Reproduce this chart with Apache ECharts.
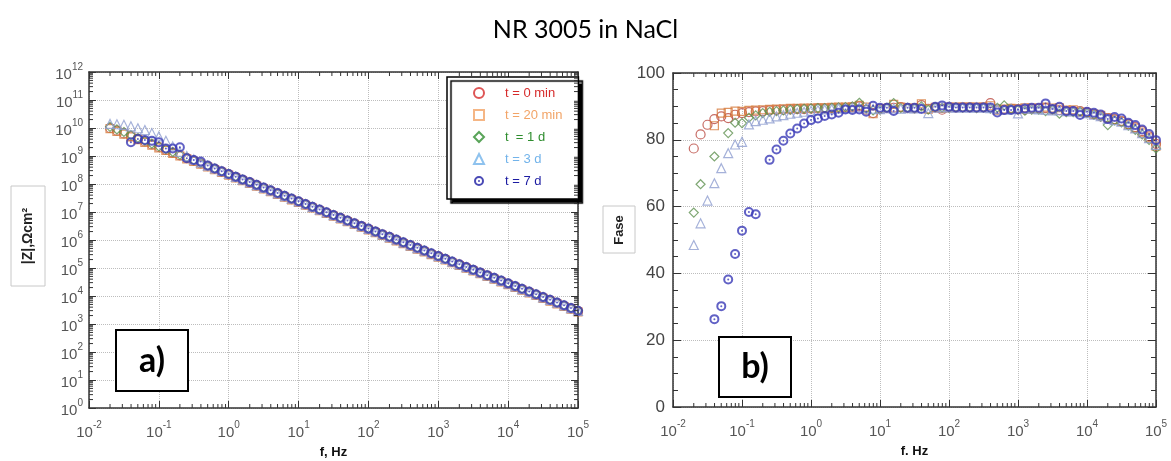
<!DOCTYPE html>
<html><head><meta charset="utf-8">
<script src="https://cdn.jsdelivr.net/npm/echarts@6/dist/echarts.min.js"></script>
<style>html,body{margin:0;padding:0;background:#fff}#c{width:1171px;height:461px}</style>
</head><body><div id="c"></div>
<script>
// Frequencies (Hz), 10 points per decade from 0.02 Hz to 100 kHz
const freqs = [0.02, 0.0251, 0.0316, 0.0398, 0.0501, 0.0631, 0.0794, 0.1, 0.126, 0.158, 0.2, 0.251, 0.316, 0.398, 0.501, 0.631, 0.794, 1,
  1.26, 1.58, 2, 2.51, 3.16, 3.98, 5.01, 6.31, 7.94, 10,
  12.6, 15.8, 20, 25.1, 31.6, 39.8, 50.1, 63.1, 79.4, 100,
  126, 158, 200, 251, 316, 398, 501, 631, 794, 1000,
  1260, 1580, 2000, 2510, 3160, 3980, 5010, 6310, 7940, 10000,
  12600, 15800, 20000, 25100, 31600, 39800, 50100, 63100, 79400, 100000];

const seriesNames = ['t = 0 min', 't = 20 min', 't  = 1 d', 't = 3 d', 't = 7 d'];

// |Z| (Ohm cm2)
const zT0 = [1.0e10, 8.0e9, 6.4e9, 5.1e9, 4.1e9, 3.3e9, 2.6e9, 2.1e9, 1.66e9, 1.33e9, 1.06e9, 8.5e8, 6.8e8, 5.4e8, 4.3e8, 3.45e8, 2.75e8, 2.2e8,
  1.75e8, 1.4e8, 1.12e8, 8.9e7, 7.1e7, 5.7e7, 4.55e7, 3.63e7, 2.9e7, 2.32e7,
  1.85e7, 1.48e7, 1.18e7, 9.4e6, 7.5e6, 6.0e6, 4.8e6, 3.83e6, 3.06e6, 2.44e6,
  1.95e6, 1.56e6, 1.25e6, 9.95e5, 7.95e5, 6.35e5, 5.06e5, 4.04e5, 3.23e5, 2.58e5,
  2.06e5, 1.64e5, 1.31e5, 1.05e5, 8.4e4, 6.7e4, 5.35e4, 4.27e4, 3.41e4, 2.72e4,
  2.17e4, 1.74e4, 1.38e4, 1.1e4, 8.8e3, 7.05e3, 5.62e3, 4.49e3, 3.59e3, 2.87e3];
const zT20 = [9.45e9, 7.54e9, 6.03e9, 4.82e9, 3.84e9, 3.07e9, 2.45e9, 1.95e9, 1.57e9, 1.25e9, 1.00e9, 7.95e8, 6.35e8, 5.08e8, 4.05e8, 3.23e8, 2.58e8, 2.06e8,
  1.65e8, 1.31e8, 1.05e8, 8.38e7, 6.70e7, 5.35e7, 4.27e7, 3.41e7, 2.73e7, 2.18e7,
  1.74e7, 1.39e7, 1.11e7, 8.84e6, 7.07e6, 5.63e6, 4.50e6, 3.59e6, 2.87e6, 2.30e6,
  1.83e6, 1.46e6, 1.17e6, 9.36e5, 7.44e5, 5.95e5, 4.74e5, 3.79e5, 3.02e5, 2.42e5,
  1.93e5, 1.54e5, 1.23e5, 9.81e4, 7.86e4, 6.26e4, 5.00e4, 4.00e4, 3.20e4, 2.55e4,
  2.03e4, 1.63e4, 1.30e4, 1.04e4, 8.28e3, 6.61e3, 5.27e3, 4.21e3, 3.37e3, 2.69e3];
const zT1d = [1.1e10, 8.9e9, 7.2e9, 5.6e9, 4.4e9, 3.5e9, 2.75e9, 2.2e9, 1.75e9, 1.4e9, 1.11e9, 8.83e8, 7.06e8, 5.64e8, 4.50e8, 3.59e8, 2.87e8, 2.29e8,
  1.85e8, 1.47e8, 1.18e8, 9.4e7, 7.5e7, 6.0e7, 4.78e7, 3.82e7, 3.05e7, 2.44e7,
  1.95e7, 1.55e7, 1.24e7, 9.9e6, 7.9e6, 6.3e6, 5.04e6, 4.02e6, 3.21e6, 2.57e6,
  2.05e6, 1.63e6, 1.31e6, 1.05e6, 8.33e5, 6.66e5, 5.31e5, 4.24e5, 3.38e5, 2.71e5,
  2.16e5, 1.72e5, 1.38e5, 1.1e5, 8.8e4, 7.0e4, 5.6e4, 4.47e4, 3.58e4, 2.85e4,
  2.28e4, 1.82e4, 1.45e4, 1.16e4, 9.27e3, 7.4e3, 5.9e3, 4.71e3, 3.77e3, 3.01e3];
const zT3d = [1.4e10, 1.36e10, 1.3e10, 1.15e10, 9.8e9, 8.5e9, 6.6e9, 5.0e9, 3.5e9, 2.2e9, 1.4e9, 1.0e9, 7.6e8, 5.9e8, 4.5e8, 3.59e8, 2.87e8, 2.29e8,
  1.79e8, 1.43e8, 1.15e8, 9.1e7, 7.3e7, 5.8e7, 4.65e7, 3.71e7, 2.97e7, 2.37e7,
  1.89e7, 1.51e7, 1.21e7, 9.6e6, 7.7e6, 6.1e6, 4.9e6, 3.91e6, 3.13e6, 2.5e6,
  1.99e6, 1.59e6, 1.27e6, 1.02e6, 8.1e5, 6.48e5, 5.16e5, 4.13e5, 3.29e5, 2.64e5,
  2.1e5, 1.68e5, 1.34e5, 1.07e5, 8.56e4, 6.82e4, 5.45e4, 4.35e4, 3.48e4, 2.77e4,
  2.21e4, 1.77e4, 1.41e4, 1.13e4, 9.0e3, 7.2e3, 5.74e3, 4.59e3, 3.67e3, 2.93e3];
const zT7d = [null, null, null, 3.09e9, 4.07e9, 3.72e9, 3.47e9, 3.09e9, 1.86e9, 1.86e9, 2.04e9, 8.3e8, 7.2e8, 6.3e8, 4.6e8, 3.6e8, 2.87e8, 2.29e8,
  1.83e8, 1.46e8, 1.17e8, 9.31e7, 7.44e7, 5.94e7, 4.74e7, 3.79e7, 3.03e7, 2.42e7,
  1.93e7, 1.54e7, 1.23e7, 9.82e6, 7.85e6, 6.26e6, 5.00e6, 3.99e6, 3.19e6, 2.55e6,
  2.03e6, 1.62e6, 1.30e6, 1.04e6, 8.27e5, 6.61e5, 5.27e5, 4.21e5, 3.36e5, 2.69e5,
  2.14e5, 1.71e5, 1.37e5, 1.09e5, 8.73e4, 6.96e4, 5.56e4, 4.44e4, 3.55e4, 2.83e4,
  2.26e4, 1.81e4, 1.44e4, 1.15e4, 9.20e3, 7.34e3, 5.86e3, 4.68e3, 3.74e3, 2.99e3];

// Phase (degrees)
const pT0 = [77.4, 81.6, 84.5, 86.2, 87.0, 86.5, 87.5, 88.0, 88.3, 88.5, 88.6, 88.8, 88.9, 89.0, 89.1, 89.2, 89.2, 89.3,
  89.4, 89.4, 89.5, 89.5, 89.6, 89.7, 90.0, 89.0, 88.0, 89.2,
  89.5, 89.6, 89.8, 89.5, 89.4, 90.4, 89.3, 89.6, 89.0, 89.6,
  89.6, 89.7, 89.7, 89.6, 89.7, 91.0, 89.2, 89.0, 89.3, 89.1,
  89.0, 89.2, 89.3, 89.5, 89.0, 88.9, 88.5, 88.6, 88.6, 88.2,
  87.6, 87.0, 86.5, 86.2, 85.6, 84.7, 83.8, 82.6, 81.0, 78.8];
const pT20 = [null, null, null, 84.2, 88.0, 88.2, 88.6, 88.5, 88.8, 88.9, 89.0, 89.1, 89.2, 89.3, 89.4, 89.4, 89.5, 89.5,
  89.6, 89.6, 89.7, 89.8, 89.8, 89.9, 90.3, 89.8, 87.8, 89.3,
  89.4, 90.6, 89.8, 89.4, 89.5, 90.8, 89.2, 89.7, 89.4, 89.8,
  89.8, 89.8, 89.8, 89.8, 89.8, 90.2, 88.9, 89.2, 89.4, 89.3,
  89.6, 89.5, 89.5, 89.8, 89.5, 89.6, 88.9, 89.0, 88.3, 88.1,
  87.7, 87.3, 86.6, 86.0, 85.5, 84.5, 83.5, 82.1, 80.6, 78.1];
const pT1d = [58.2, 66.7, null, 75.0, null, 82.0, 85.1, 85.0, 86.6, 87.3, 88.0, 88.4, 88.6, 88.8, 89.0, 89.2, 89.3, 89.4,
  89.5, 89.5, 89.6, 89.7, 89.8, 90.0, 91.1, 89.3, 88.8, 89.0,
  89.6, 91.0, 89.5, 89.6, 89.4, 90.0, 89.0, 89.8, 89.6, 89.6,
  89.7, 89.6, 89.7, 89.5, 89.6, 89.3, 89.6, 90.3, 89.2, 89.0,
  88.7, 89.0, 89.0, 88.6, 89.0, 87.8, 88.3, 88.3, 88.4, 88.0,
  87.5, 86.9, 84.4, 85.8, 85.2, 84.2, 83.0, 81.6, 80.0, 77.4];
const pT3d = [48.5, 55.0, 61.8, 67.0, 71.5, 76.0, 78.6, 79.4, 84.6, 85.6, 86.0, 86.4, 87.0, 87.4, 87.8, 88.1, 88.4, 88.7,
  88.9, 89.1, 89.2, 89.4, 89.5, 89.6, 89.7, 89.5, 89.3, 89.2,
  89.5, 89.4, 89.3, 89.5, 89.4, 89.6, 88.0, 89.6, 89.7, 89.7,
  89.6, 89.7, 89.6, 89.7, 89.6, 89.5, 89.2, 89.0, 89.2, 87.9,
  89.4, 89.3, 89.1, 89.0, 88.8, 88.9, 88.6, 88.5, 88.3, 88.0,
  87.5, 87.1, 86.3, 85.9, 85.4, 84.4, 83.4, 82.0, 80.5, 78.5];
const pT7d = [null, null, null, 26.3, 30.2, 38.2, 45.8, 52.8, 58.4, 57.7, null, 74.0, 77.1, 79.7, 81.9, 83.4, 84.9, 85.9,
  86.4, 87.1, 87.6, 88.1, 89.1, 88.9, 89.1, 88.4, 90.2, 89.6,
  89.6, 88.6, null, 89.6, 89.6, 89.2, null, 89.9, 90.3, 89.9,
  89.7, 89.7, 89.7, 89.7, 89.7, 89.7, 88.2, 88.9, 88.9, 89.1,
  89.4, 89.6, 89.6, 90.9, 89.2, 89.9, 88.6, 88.6, 87.4, 88.4,
  88.1, 87.6, 86.2, 86.8, 86.4, 85.1, 84.4, 83.1, 81.7, 79.9];

const plotColors = ['#b9473e', '#d67a3c', '#5f9150', '#8e9dd0', '#3a3ab6'];
const legendColors = ['#d62b2b', '#f2a467', '#2f8d2f', '#72b3ea', '#1c1ca2'];
const symbols = ['circle', 'rect', 'diamond', 'triangle',
  'path://M50,0 A50,50 0 1,1 50,100 A50,50 0 1,1 50,0 Z M50,20 A30,30 0 1,0 50,80 A30,30 0 1,0 50,20 Z M50,40 A10,10 0 1,1 50,60 A10,10 0 1,1 50,40 Z'];
const symbolSizes = [9, 8, 9, 9, 10];

const zData = [zT0, zT20, zT1d, zT3d, zT7d];
const pData = [pT0, pT20, pT1d, pT3d, pT7d];

function pairs(xs, ys) {
  const out = [];
  ys.forEach((v, i) => { if (v != null) out.push([xs[i], v]); });
  return out;
}

const labelRich = {
  b: { fontSize: 15, color: '#555', fontFamily: 'Arial', verticalAlign: 'bottom', lineHeight: 20 },
  s: { fontSize: 10, color: '#555', fontFamily: 'Arial', verticalAlign: 'top', lineHeight: 10 }
};
function powLabel(v) {
  const e = Math.round(Math.log10(v));
  return '{b|10}{s|' + e + '}';
}
const axisLineStyle = { color: '#333', width: 1.5 };
const gridLine = { lineStyle: { color: '#bdbdbd', type: 'dotted', width: 1 } };

function logX(gi, pos, main, name) {
  return {
    type: 'log', logBase: 10, min: 0.01, max: 1e5, interval: 1, gridIndex: gi, position: pos,
    axisLine: { show: true, onZero: false, lineStyle: axisLineStyle },
    axisTick: { show: true, inside: true, length: 7, lineStyle: { color: '#333' } },
    splitLine: Object.assign({ show: main }, gridLine),
    axisLabel: { show: main, margin: 12, formatter: powLabel, rich: labelRich },
    name: main ? name : '', nameLocation: 'middle', nameGap: 38,
    nameTextStyle: { fontFamily: 'Arial', fontWeight: 'bold', fontSize: 13, color: '#111' }
  };
}

const baseGraphic = [
  { type: 'rect', z: 100, shape: { x: 11, y: 186, width: 34, height: 100 },
    style: { fill: '#fff', stroke: '#c8c8c8', lineWidth: 1 } },
  { type: 'text', z: 101, x: 28, y: 236, rotation: Math.PI / 2,
    style: { text: '|Z|,Ωcm²', fontSize: 14, fontWeight: 'bold', fontFamily: 'Arial', fill: '#222', align: 'center', verticalAlign: 'middle' } },
  { type: 'rect', z: 100, shape: { x: 603, y: 206, width: 32, height: 47 },
    style: { fill: '#fff', stroke: '#c8c8c8', lineWidth: 1 } },
  { type: 'text', z: 101, x: 619, y: 230, rotation: Math.PI / 2,
    style: { text: 'Fase', fontSize: 13, fontWeight: 'bold', fontFamily: 'Arial', fill: '#222', align: 'center', verticalAlign: 'middle' } },
  { type: 'rect', z: 100, shape: { x: 116, y: 330, width: 72, height: 61 },
    style: { fill: '#fff', stroke: '#000', lineWidth: 2 } },
  { type: 'text', z: 101, x: 152, y: 361,
    style: { text: 'a)', fontSize: 34, fontWeight: 'bold', fontFamily: 'Lato', fill: '#000', align: 'center', verticalAlign: 'middle' } },
  { type: 'rect', z: 100, shape: { x: 719, y: 337, width: 72, height: 60 },
    style: { fill: '#fff', stroke: '#000', lineWidth: 2 } },
  { type: 'text', z: 101, x: 755, y: 367,
    style: { text: 'b)', fontSize: 34, fontWeight: 'bold', fontFamily: 'Lato', fill: '#000', align: 'center', verticalAlign: 'middle' } }
];

const option = {
  animation: false,
  backgroundColor: '#fff',
  title: { text: 'NR 3005 in NaCl', left: 'center', top: 12,
    textStyle: { fontFamily: 'Lato', fontSize: 25, fontWeight: 'normal', color: '#000' } },
  grid: [
    { left: 89, top: 72, width: 489, height: 336, outerBoundsMode: 'none' },
    { left: 673, top: 73, width: 483, height: 334, outerBoundsMode: 'none' }
  ],
  xAxis: [
    logX(0, 'bottom', true, 'f, Hz'),
    logX(1, 'bottom', true, 'f. Hz'),
    logX(0, 'top', false, ''),
    logX(1, 'top', false, '')
  ],
  yAxis: [
    { type: 'log', logBase: 10, min: 1, max: 1e12, interval: 1, gridIndex: 0, position: 'left',
      axisLine: { show: true, onZero: false, lineStyle: axisLineStyle },
      axisTick: { show: true, inside: true, length: 7, lineStyle: { color: '#333' } },
      splitLine: gridLine,
      axisLabel: { margin: 6, formatter: powLabel, rich: labelRich } },
    { type: 'value', min: 0, max: 100, interval: 20, gridIndex: 1, position: 'left',
      axisLine: { show: true, onZero: false, lineStyle: axisLineStyle },
      axisTick: { show: true, inside: true, length: 8, lineStyle: { color: '#333' } },
      minorTick: { show: true, splitNumber: 4, length: 5, lineStyle: { color: '#333' } },
      splitLine: gridLine,
      axisLabel: { margin: 8, fontSize: 17, color: '#444', fontFamily: 'Arial' } },
    { type: 'log', logBase: 10, min: 1, max: 1e12, interval: 1, gridIndex: 0, position: 'right',
      axisLine: { show: true, onZero: false, lineStyle: axisLineStyle },
      axisTick: { show: true, inside: true, length: 7, lineStyle: { color: '#333' } },
      splitLine: { show: false }, axisLabel: { show: false } },
    { type: 'value', min: 0, max: 100, interval: 20, gridIndex: 1, position: 'right',
      axisLine: { show: true, onZero: false, lineStyle: axisLineStyle },
      axisTick: { show: true, inside: true, length: 8, lineStyle: { color: '#333' } },
      minorTick: { show: true, splitNumber: 4, length: 5, lineStyle: { color: '#333' } },
      splitLine: { show: false }, axisLabel: { show: false } }
  ],
  legend: {
    orient: 'vertical', left: 447, top: 77,
    padding: [9, 16, 11, 26],
    itemWidth: 10, itemHeight: 10, itemGap: 8,
    backgroundColor: '#fff', borderColor: '#000', borderWidth: 1.5,
    shadowColor: '#000', shadowOffsetX: 4, shadowOffsetY: 4, shadowBlur: 1,
    textStyle: { fontSize: 13, fontFamily: 'Arial', lineHeight: 14, padding: [0, 0, 0, 16] },
    data: seriesNames.map((n, i) => ({
      name: n,
      textStyle: { color: legendColors[i] },
      itemStyle: i === 4 ? { color: legendColors[i] } : { borderColor: legendColors[i] }
    }))
  },
  series: [],
  graphic: baseGraphic
};

seriesNames.forEach((n, i) => {
  const isBlue = i === 4;
  const itemStyle = isBlue ? { color: plotColors[i] }
    : { color: 'rgba(0,0,0,0)', borderColor: plotColors[i], borderWidth: 1.2 };
  option.series.push({ name: n, type: 'scatter', xAxisIndex: 0, yAxisIndex: 0,
    data: pairs(freqs, zData[i]), symbol: symbols[i], symbolSize: symbolSizes[i], itemStyle: itemStyle, z: 2 + i });
  option.series.push({ name: n, type: 'scatter', xAxisIndex: 1, yAxisIndex: 1,
    data: pairs(freqs, pData[i]), symbol: symbols[i], symbolSize: symbolSizes[i], itemStyle: itemStyle, z: 2 + i });
});

const chart = echarts.init(document.getElementById('c'), null, { renderer: 'canvas' });
chart.setOption(option);

// Minor ticks on the logarithmic axes (2..9 x 10^n), placed through the axes' own scales
const minor = [];
const tickStyle = { stroke: '#333', lineWidth: 1 };
function addLine(x1, y1, x2, y2) {
  minor.push({ type: 'line', z: 50, silent: true, shape: { x1: x1, y1: y1, x2: x2, y2: y2 }, style: tickStyle });
}
[[0, 2], [1, 3]].forEach(([bi, ti]) => {
  const yb = chart.convertToPixel({ gridIndex: bi }, [0.01, bi === 0 ? 1 : 0])[1];
  const yt = chart.convertToPixel({ gridIndex: bi }, [0.01, bi === 0 ? 1e12 : 100])[1];
  for (let e = -2; e < 5; e++) {
    for (let k = 2; k <= 9; k++) {
      const px = chart.convertToPixel({ xAxisIndex: bi }, k * Math.pow(10, e));
      addLine(px, yb, px, yb - 4);
      addLine(px, yt, px, yt + 4);
    }
  }
});
{
  const xl = chart.convertToPixel({ xAxisIndex: 0 }, 0.01);
  const xr = chart.convertToPixel({ xAxisIndex: 0 }, 1e5);
  for (let e = 0; e < 12; e++) {
    for (let k = 2; k <= 9; k++) {
      const py = chart.convertToPixel({ yAxisIndex: 0 }, k * Math.pow(10, e));
      addLine(xl, py, xl + 4, py);
      addLine(xr, py, xr - 4, py);
    }
  }
}
chart.setOption({ graphic: baseGraphic.concat([{ type: 'group', children: minor }]) });
</script></body></html>
